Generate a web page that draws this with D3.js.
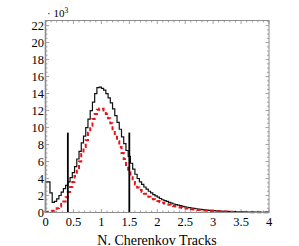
<!DOCTYPE html>
<html>
<head>
<meta charset="utf-8">
<script src="https://cdn.jsdelivr.net/npm/d3@7"></script>
<style>
  body { margin: 0; background: #fff; }
  svg text { font-family: "Liberation Serif", "DejaVu Serif", serif; fill: #000; }
</style>
</head>
<body>
<svg width="299" height="246"></svg>
<script>
// histogram bins, 0.04 wide, values in units of 10^3
var binWidth = 0.04;
var dataBlack = [3.6, 3.6, 2.3, 1.2, 1.3, 1.6, 2.0, 2.4, 2.8, 3.2,
  3.6, 4.1, 4.7, 5.4, 6.3, 7.2, 8.2, 9.0, 10.0, 11.0,
  12.0, 13.0, 14.0, 14.7, 14.75, 14.6, 14.4, 14.0, 13.5, 12.9,
  12.2, 11.4, 10.6, 9.8, 8.9, 8.1, 7.3, 6.6, 5.8, 5.1,
  4.5, 4.0, 3.6, 3.3, 3.0, 2.75, 2.5, 2.3, 2.1, 1.95,
  1.8, 1.65, 1.5, 1.4, 1.3, 1.2, 1.1, 1.0, 0.93, 0.86,
  0.8, 0.73, 0.67, 0.62, 0.57, 0.52, 0.48, 0.44, 0.4, 0.37,
  0.34, 0.31, 0.28, 0.26, 0.24, 0.22, 0.2, 0.18, 0.17, 0.15,
  0.14, 0.13, 0.12, 0.11, 0.1, 0.09, 0.08, 0.075, 0.07, 0.06,
  0.055, 0.05, 0.045, 0.04, 0.035, 0.03, 0.03, 0.025, 0.02, 0.02];
var dataRed = [0.05, 0.08, 0.12, 0.2, 0.3, 0.5, 0.7, 1.0, 1.3, 1.8,
  2.4, 3.0, 3.6, 4.3, 5.1, 6.0, 6.9, 7.7, 8.5, 9.4,
  10.2, 11.0, 11.6, 12.1, 12.25, 12.2, 12.0, 11.6, 11.1, 10.5,
  9.8, 9.1, 8.4, 7.7, 7.0, 6.3, 5.6, 4.9, 4.3, 3.8,
  3.3, 2.95, 2.65, 2.4, 2.2, 2.0, 1.85, 1.7, 1.55, 1.45,
  1.35, 1.25, 1.15, 1.05, 0.97, 0.9, 0.83, 0.76, 0.7, 0.64,
  0.59, 0.54, 0.5, 0.46, 0.42, 0.39, 0.36, 0.33, 0.3, 0.28,
  0.26, 0.24, 0.22, 0.2, 0.18, 0.17, 0.16, 0.14, 0.13, 0.12,
  0.11, 0.1, 0.09, 0.085, 0.08, 0.07, 0.065, 0.06, 0.055, 0.05,
  0.045, 0.04, 0.035, 0.03, 0.03, 0.025, 0.02, 0.02, 0.015, 0.015];
var cutLines = [0.4, 1.5];
var cutHeight = 9.4;
var xTickLabels = [0, 0.5, 1, 1.5, 2, 2.5, 3, 3.5, 4];
var yTickLabels = [0, 2, 4, 6, 8, 10, 12, 14, 16, 18, 20, 22];

var svg = d3.select("svg");
var pLeft = 45.5, pRight = 269, pTop = 20.5, pBottom = 212.5;
var axisColor = "#8c8c8c";

var x = d3.scaleLinear().domain([0, 4]).range([pLeft, pRight]);
var y = d3.scaleLinear().domain([0, 22.6]).range([pBottom, pTop]);

function toPoints(vals) {
  var pts = [[0, 0]];
  vals.forEach(function (v, i) { pts.push([i * binWidth, v]); });
  pts.push([vals.length * binWidth, vals[vals.length - 1]]);
  return pts;
}

var line = d3.line()
  .x(function (d) { return x(d[0]); })
  .y(function (d) { return y(d[1]); })
  .curve(d3.curveStepAfter);

// ticks (inward)
var g = svg.append("g").attr("stroke", axisColor).attr("stroke-width", 0.8);
d3.range(0, 40.5).forEach(function (i) {
  var v = i / 10, len = (i % 5 === 0) ? 3.5 : 2;
  g.append("line").attr("x1", x(v)).attr("x2", x(v)).attr("y1", pBottom).attr("y2", pBottom - len);
  g.append("line").attr("x1", x(v)).attr("x2", x(v)).attr("y1", pTop).attr("y2", pTop + len);
});
d3.range(0, 45.5).forEach(function (i) {
  var v = i / 2, len = (i % 4 === 0) ? 3.5 : 2;
  if (y(v) < pTop) return;
  g.append("line").attr("x1", pLeft).attr("x2", pLeft + len).attr("y1", y(v)).attr("y2", y(v));
  g.append("line").attr("x1", pRight).attr("x2", pRight - len).attr("y1", y(v)).attr("y2", y(v));
});

// histograms
svg.append("path")
  .attr("d", line(toPoints(dataBlack)))
  .attr("fill", "none")
  .attr("stroke", "#111")
  .attr("stroke-width", 1.2);

svg.append("path")
  .attr("d", line(toPoints(dataRed)))
  .attr("fill", "none")
  .attr("stroke", "#e8141b")
  .attr("stroke-width", 2)
  .attr("stroke-dasharray", "4,3");

// cut lines
svg.selectAll(".cut")
  .data(cutLines).enter()
  .append("line")
  .attr("x1", function (d) { return x(d); })
  .attr("x2", function (d) { return x(d); })
  .attr("y1", y(0))
  .attr("y2", y(cutHeight))
  .attr("stroke", "#000")
  .attr("stroke-width", 1.8);

// frame
svg.append("rect")
  .attr("x", pLeft).attr("y", pTop)
  .attr("width", pRight - pLeft).attr("height", pBottom - pTop)
  .attr("fill", "none")
  .attr("stroke", axisColor)
  .attr("stroke-width", 1);
svg.append("line")
  .attr("x1", pLeft).attr("x2", pLeft).attr("y1", pTop).attr("y2", pBottom)
  .attr("stroke", axisColor).attr("stroke-width", 1.6);

// tick labels
svg.selectAll(".xl")
  .data(xTickLabels).enter()
  .append("text")
  .attr("x", function (d) { return x(d); })
  .attr("y", pBottom + 13.5)
  .attr("text-anchor", "middle")
  .attr("font-size", 12.5)
  .text(function (d) { return d; });

svg.selectAll(".yl")
  .data(yTickLabels).enter()
  .append("text")
  .attr("x", pLeft - 1.5)
  .attr("y", function (d) { return y(d) + 4.3; })
  .attr("text-anchor", "end")
  .attr("font-size", 12.5)
  .text(function (d) { return d; });

// multiplier
var mult = svg.append("text").attr("x", 47).attr("y", 17).attr("font-size", 11);
mult.append("tspan").text("\u00b7 10");
mult.append("tspan").attr("dy", -4).attr("font-size", 7.5).text("3");

// axis title
svg.append("text")
  .attr("x", 157)
  .attr("y", 244.5)
  .attr("text-anchor", "middle")
  .attr("font-size", 14)
  .text("N. Cherenkov Tracks");
</script>
</body>
</html>
